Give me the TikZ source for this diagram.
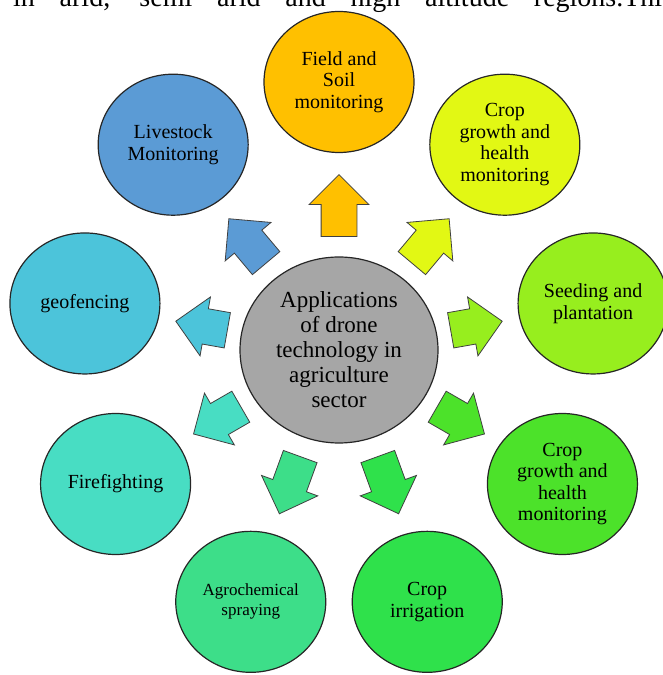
\documentclass[tikz,border=0pt]{standalone}
\usepackage{fontspec}
\setmainfont{Liberation Serif}
\usetikzlibrary{shapes.geometric,shapes.arrows}

\definecolor{hubgray}{HTML}{A6A6A6}
\definecolor{fieldc}{HTML}{FFC000}
\definecolor{cropupc}{HTML}{E2F814}
\definecolor{seedc}{HTML}{97EE1E}
\definecolor{cropdownc}{HTML}{4CE22A}
\definecolor{irrigc}{HTML}{2FE14B}
\definecolor{agroc}{HTML}{3DDE89}
\definecolor{firec}{HTML}{48DDC3}
\definecolor{geoc}{HTML}{4CC4DA}
\definecolor{stockc}{HTML}{5B9BD5}

\begin{document}
\begin{tikzpicture}[x=1pt, y=1pt,
        bubble/.style={ellipse, draw=black!85, line width=1.2pt, minimum width=150pt,
            minimum height=141pt, inner sep=0pt, align=center},
        bigtext/.style={font=\fontsize{20}{21.5}\selectfont},
        smalltext/.style={font=\fontsize{17}{20}\selectfont},
        pointer/.style={single arrow, draw=black!75, line width=0.8pt, inner xsep=0pt,
            inner ysep=17.5pt, single arrow head extend=12pt, anchor=tail}]
        \useasboundingbox (0,0) rectangle (662,675);

        % line of running text above the figure
        \node[anchor=base west, inner sep=0pt, font=\fontsize{28}{30}\selectfont] (intro)
            at (13,668.5) {\makebox[649pt][s]{in arid, semi arid and high altitude regions.Thi}};

        \node[ellipse, draw=black!85, line width=1.2pt, fill=hubgray, minimum width=198pt,
            minimum height=186pt, inner sep=0pt, align=center,
            font=\fontsize{23}{25}\selectfont] (hub) at (339,325)
            {Applications\\of drone\\technology in\\agriculture\\sector};

        \begin{scope}[shift={(339,325)}]
            \foreach \a/\name/\col/\sty/\txt in {
                    90/field/fieldc/bigtext/{Field and\\Soil\\monitoring},
                    50/growthup/cropupc/bigtext/{Crop\\growth and\\health\\monitoring},
                    10/seeding/seedc/bigtext/{Seeding and\\plantation},
                    -30/growthdown/cropdownc/bigtext/{Crop\\growth and\\health\\monitoring},
                    -70/irrigation/irrigc/bigtext/{Crop\\irrigation},
                    -110/spraying/agroc/smalltext/{Agrochemical\\spraying},
                    -150/fire/firec/bigtext/{Firefighting},
                    170/geofence/geoc/bigtext/{geofencing},
                    130/livestock/stockc/bigtext/{Livestock\\Monitoring}} {
                \pgfmathsetmacro\len{veclen(165*cos(\a),175*sin(\a))-113}
                \node[pointer, fill=\col, minimum height=\len pt, rotate=\a]
                    (arrow-\name) at (\a:113) {};
                \node[bubble, \sty, fill=\col] (\name)
                    at ({258*cos(\a)},{268*sin(\a)}) {\txt};
            }
        \end{scope}
    \end{tikzpicture}
\end{document}
